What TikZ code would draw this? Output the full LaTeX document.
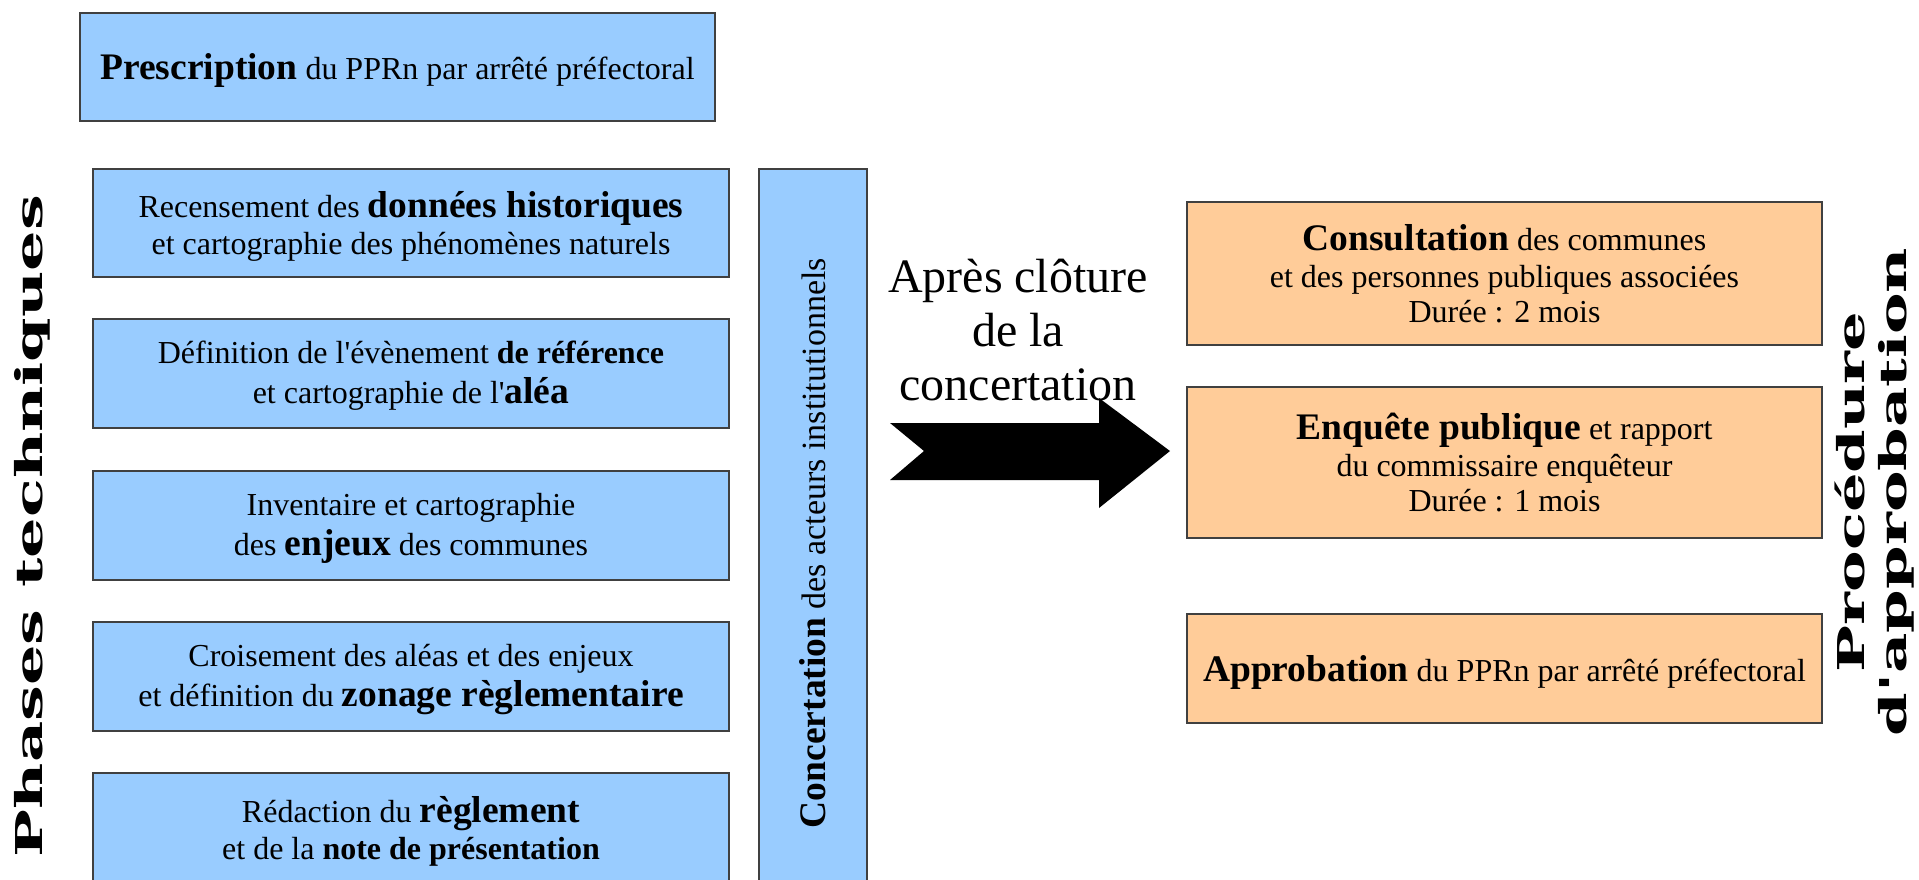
\documentclass[tikz,border=0pt]{standalone}
\usepackage{fontspec}
\setmainfont{Liberation Serif}[Ligatures=TeXOff]
\newfontfamily\titlefont{DejaVu Serif}
\definecolor{bluefill}{HTML}{99CCFF}
\definecolor{orangefill}{HTML}{FFCC99}
\newcommand\rs{\rule[-6.9pt]{0pt}{35.4pt}}
\newcommand\bigb[1]{{\fontsize{37.5}{0}\selectfont\bfseries\rule[-8.1pt]{0pt}{41.5pt}#1}}
\begin{document}
\begin{tikzpicture}[x=1pt,y=-1pt,
  box/.style={draw=black!75, line width=1.2pt, rectangle, align=center, inner sep=0pt,
    font={\fontsize{32}{0}\selectfont\lineskip=0pt\lineskiplimit=0pt}},
  bluebox/.style={box, fill=bluefill, minimum width=636pt, minimum height=108pt},
  orangebox/.style={box, fill=orangefill, minimum width=635pt},
  vtitle/.style={rotate=90, xscale=1.72, align=center, inner sep=0pt,
    font=\titlefont\bfseries\fontsize{37}{42}\selectfont},
  bigarrow/.style={fill=black, draw=none}
]
\useasboundingbox (0,0) rectangle (1919,879);

% left column
\node[bluebox, minimum width=635pt] (presc) at (397.5,67) {\rs\bigb{Prescription} du PPRn par arrêté préfectoral};
\node[bluebox] (b1) at (411,223) {\rs Recensement des \bigb{données historiques}\\\rs et cartographie des phénomènes naturels};
\node[bluebox, minimum height=109pt] (b2) at (411,373.5) {\rs Définition de l'évènement {\bfseries de référence}\\\rs et cartographie de l'\bigb{aléa}};
\node[bluebox, minimum height=109pt] (b3) at (411,525.5) {\rs Inventaire et cartographie\\\rs des \bigb{enjeux} des communes};
\node[bluebox, minimum height=109pt] (b4) at (411,676.5) {\rs Croisement des aléas et des enjeux\\\rs et définition du \bigb{zonage règlementaire}};
\node[bluebox, minimum height=109pt] (b5) at (411,827.5) {\rs Rédaction du \bigb{règlement}\\\rs et de la {\bfseries note de présentation}};

% concertation column
\node[box, fill=bluefill, rotate=90, minimum width=748pt, minimum height=108pt,
  font=\fontsize{34}{40}\selectfont] (conc) at (813,543) {\bigb{Concertation} des acteurs institutionnels};

% titles
\node[vtitle] (phases) at (32,526) {Phases techniques};
\node[vtitle, xscale=0.98] (proc) at (1874.5,492) {Procédure\\d'approbation};

% arrow and its label
\node[align=center, inner sep=0pt, font=\fontsize{48}{54}\selectfont] (apres) at (1018,330) {Après clôture\\de la\\concertation};
\fill[bigarrow] (890,423) -- (1099,423) -- (1099,398) -- (1170,451) -- (1099,508) -- (1099,480) -- (890,480) -- (924,451) -- cycle;

% right column
\node[orangebox, minimum height=143pt] (cons) at (1504.5,273.5) {\rs\bigb{Consultation} des communes\\\rs et des personnes publiques associées\\\rs Durée : 2 mois};
\node[orangebox, minimum height=151pt] (enq) at (1504.5,462.5) {\rs\bigb{Enquête publique} et rapport\\\rs du commissaire enquêteur\\\rs Durée : 1 mois};
\node[orangebox, minimum height=109pt] (appr) at (1504.5,668.5) {\rs\bigb{Approbation} du PPRn par arrêté préfectoral};
\end{tikzpicture}
\end{document}
